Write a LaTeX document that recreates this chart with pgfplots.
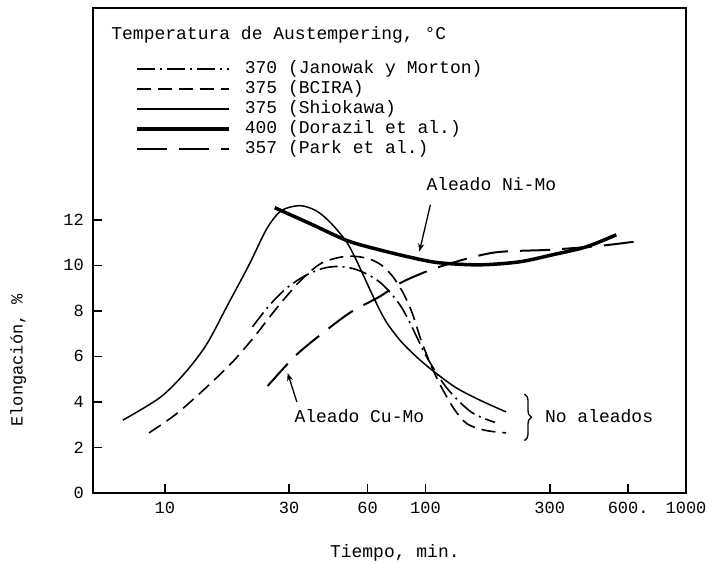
\documentclass[border=0pt]{standalone}
\usepackage{pgfplots}
\pgfplotsset{compat=1.18}
\usepackage{fontspec}
\setmainfont{Liberation Mono}
\usetikzlibrary{decorations.pathreplacing,arrows.meta}
\newcommand{\fs}{\fontsize{17}{20}\selectfont}
\newcommand{\fl}{\fontsize{18}{20}\selectfont}
\begin{document}
\begin{tikzpicture}
\useasboundingbox (0,0) rectangle (715pt,565pt);
\begin{axis}[
  at={(93pt,72pt)}, anchor=south west,
  scale only axis, width=593pt, height=485pt,
  xmode=log, xmin=5.3, xmax=1000, ymin=0, ymax=21.3,
  axis line style={line width=1.6pt},
  xtick={10,30,60,100,300,600,1000},
  xticklabels={10,30,60,100,300,600.,1000},
  ytick={0,2,4,6,8,10,12},
  xminorticks=false,
  tick align=inside, xtick pos=bottom, ytick pos=left,
  major tick length=9pt,
  tick style={line width=1.5pt, black},
  /pgf/number format/assume math mode=true,
  tick label style={font=\fs},
  yticklabel style={inner xsep=0pt, xshift=-9pt},
  xticklabel style={yshift=-6pt},
  clip=false,
  legend image code/.code={\draw[#1] (0pt,0pt) -- (92pt,0pt);},
  legend style={at={(0.071,0.895)}, anchor=north west, draw=none, fill=none,
    inner sep=0pt, row sep=0pt, font=\fl,
    nodes={text height=13pt, text depth=4pt, inner ysep=1.5pt, inner xsep=0pt},
    /tikz/every odd column/.append style={column sep=14pt}},
  legend cell align=left,
]
% Janowak y Morton, 370 (dash-dot)
\addplot[black, line width=1.6pt, dash pattern=on 18pt off 5pt on 2pt off 5pt, smooth, tension=0.5] coordinates {
(21.7,7.3)(25,8.2)(29,8.95)(34,9.5)(40,9.85)(46,9.95)(53,9.85)(60,9.6)(67,9.25)(74,8.75)(81,8.15)(87,7.5)(94,6.7)(102,5.9)(121,4.6)(150,3.55)(185,3.1)};
\addlegendentry{370 (Janowak y Morton)}
% BCIRA 375 (dashed)
\addplot[black, line width=1.6pt, dash pattern=on 14pt off 7pt, smooth, tension=0.5] coordinates {
(8.7,2.64)(11,3.45)(14,4.5)(18,5.7)(22,6.85)(27,8.15)(33,9.3)(40,10.1)(50,10.4)(60,10.3)(68,10.0)(75,9.5)(82,8.8)(89,7.9)(97,6.6)(110,5.1)(127,3.8)(144,3.05)(170,2.75)(204,2.64)};
\addlegendentry{375 (BCIRA)}
% Shiokawa 375 (solid thin)
\addplot[black, line width=1.5pt, smooth, tension=0.5] coordinates {
(6.9,3.2)(9.6,4.2)(12,5.3)(14.5,6.55)(17.5,8.3)(21,10.0)(24.6,11.6)(28,12.4)(33,12.62)(38,12.4)(43,11.9)(50,11.0)(56,9.9)(62,8.8)(70,7.6)(80,6.7)(92,6.0)(106,5.4)(130,4.65)(161,4.09)(204,3.56)};
\addlegendentry{375 (Shiokawa)}
% Dorazil 400 (thick)
\addplot[black, line width=3.5pt, smooth, tension=0.5] coordinates {
(26.4,12.53)(36.9,11.78)(50.2,11.08)(66.6,10.68)(89.2,10.33)(113,10.11)(161,10.02)(229,10.15)(307,10.46)(414,10.81)(540,11.34)};
\addlegendentry{400 (Dorazil et al.)}
% Park 357 (long dash)
\addplot[black, line width=2pt, dash pattern=on 30pt off 12pt, smooth, tension=0.5] coordinates {
(24.8,4.70)(32.0,6.07)(41.8,7.16)(52.0,7.96)(66.6,8.62)(81.6,9.27)(113,9.93)(181,10.55)(299,10.68)(464,10.85)(678,11.08)};
\addlegendentry{357 (Park et al.)}

% annotations
\node[font=\fl, anchor=west] at (rel axis cs:0.025,0.944) {Temperatura de Austempering, °C};
\node[font=\fl] at (axis cs:179,13.58) {Aleado Ni-Mo};
\draw[line width=1.3pt, -{Stealth[length=8pt,width=6pt]}] (axis cs:104.5,12.66) -- (axis cs:94.8,10.6);
\node[font=\fl] at (axis cs:55.8,3.38) {Aleado Cu-Mo};
\draw[line width=1.3pt, -{Stealth[length=8pt,width=6pt]}] (axis cs:32.1,4.0) -- (axis cs:29.6,5.27);
\node[font=\fl] at (axis cs:464,3.38) {No aleados};
\draw[line width=1.3pt, decorate, decoration={brace, amplitude=7pt}] (axis cs:240,4.35) -- (axis cs:240,2.3);
\node[font=\fs, rotate=90] at (rel axis cs:-0.126,0.274) {Elongación, \%};
\node[font=\fl] at (rel axis cs:0.509,-0.124) {Tiempo, min.};
\end{axis}
\end{tikzpicture}
\end{document}
